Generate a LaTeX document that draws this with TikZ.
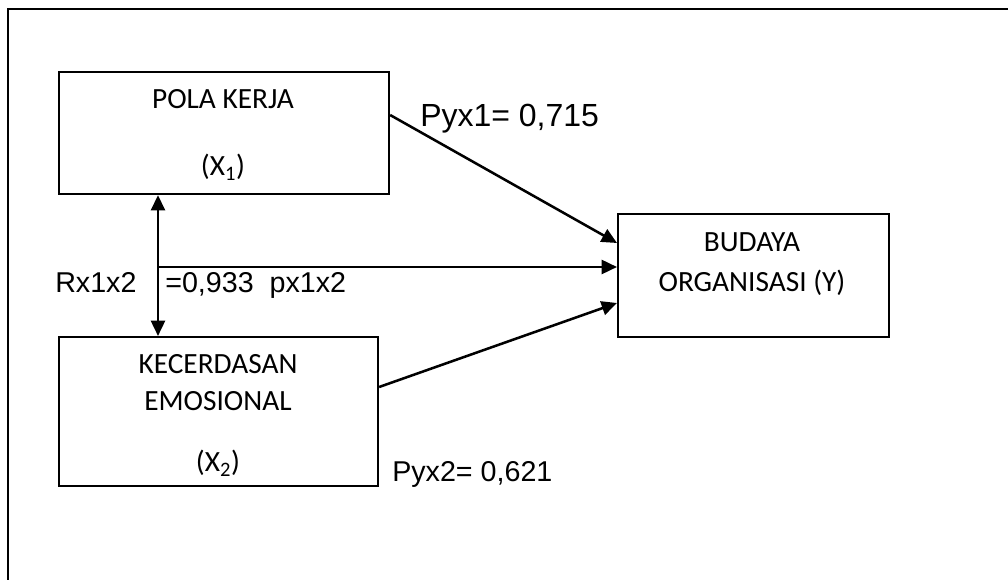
\documentclass[tikz,border=0pt]{standalone}
\usepackage{fontspec}
\setmainfont{Carlito}
\newfontfamily\arialfont{Liberation Sans}
\usetikzlibrary{arrows.meta,calc}
\begin{document}
\begin{tikzpicture}[x=0.75pt,y=-0.75pt,
  box/.style={draw,line width=1.6pt,inner sep=0,anchor=north west},
  boxtxt/.style={inner sep=0,anchor=base,font=\fontsize{22}{26}\selectfont},
  lbl/.style={inner sep=0,anchor=base west,font=\arialfont\fontsize{21.5}{25}\selectfont},
  conn/.style={line width=1.9pt,-{Triangle[length=11.5pt,width=10.5pt]}},
  dconn/.style={line width=1.9pt,{Triangle[length=11.5pt,width=10.5pt]}-{Triangle[length=11.5pt,width=10.5pt]}}]
\useasboundingbox (0,0) rectangle (1008,580);
% outer frame (top and left edges visible)
\draw[line width=2.2pt] (8,581) -- (8,9) -- (1009,9);
% boxes
\node[box,minimum width=247.5pt,minimum height=91.5pt] (b1) at (58,71) {};
\node[box,minimum width=239.25pt,minimum height=111.75pt] (b2) at (58,336) {};
\node[box,minimum width=203.25pt,minimum height=92.25pt] (b3) at (617,213) {};
% box texts
\node[boxtxt] (t1a) at (223,109) {POLA KERJA};
\node[boxtxt] (t1b) at (223,176) {(X\textsubscript{1})};
\node[boxtxt] (t2a) at (218,374) {KECERDASAN};
\node[boxtxt] (t2b) at (218,411) {EMOSIONAL};
\node[boxtxt] (t2c) at (218,472) {(X\textsubscript{2})};
\node[boxtxt] (t3a) at (752,252) {BUDAYA};
\node[boxtxt] (t3b) at (752,292) {ORGANISASI (Y)};
% junction
\coordinate (j) at (158,267);
% connectors
\draw[dconn] (b1.south -| j) -- (b2.north -| j);
\draw[conn] (j) -- (j -| b3.west);
\draw[conn] ($(b1.north east)+(0,44)$) -- ($(b3.north west)+(0,30)$);
\draw[conn] ($(b2.north east)+(0,51)$) -- ($(b3.north west)+(0,90)$);
% labels
\node[lbl,font=\arialfont\fontsize{24}{28}\selectfont] (l1) at (420,127) {Pyx1= 0,715};
\node[lbl] (l2) at (55,293) {Rx1x2};
\node[lbl] (l3) at (165,293) {=0,933\ \ px1x2};
\node[lbl] (l4) at (392,482) {Pyx2= 0,621};
\end{tikzpicture}
\end{document}
